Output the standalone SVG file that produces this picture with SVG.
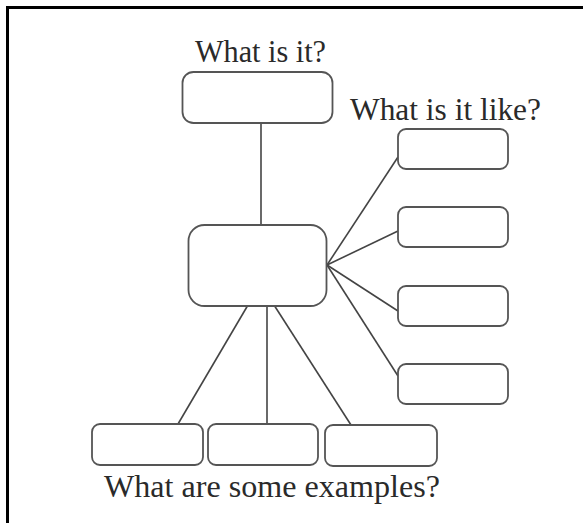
<svg xmlns="http://www.w3.org/2000/svg" width="583" height="523" viewBox="0 0 583 523">
<style>
.box{fill:#fff;stroke:#555;stroke-width:1.8}
.ln{stroke:#444;stroke-width:1.6;fill:none}
.lbl{font-family:"Liberation Serif","Times New Roman",serif;font-size:31px;fill:#2a2a2a}
</style>
<rect width="583" height="523" fill="#fff"/>
<path d="M7.5,523 V7.5 H583" fill="none" stroke="#000" stroke-width="3"/>
<g id="connectors">
<line class="ln" x1="261" y1="123" x2="261" y2="225"/>
<line class="ln" x1="327" y1="265" x2="398" y2="157"/>
<line class="ln" x1="327" y1="265" x2="398" y2="231"/>
<line class="ln" x1="327" y1="265" x2="398" y2="311"/>
<line class="ln" x1="327" y1="265" x2="398" y2="376"/>
<line class="ln" x1="248" y1="305" x2="178" y2="424"/>
<line class="ln" x1="267" y1="305" x2="267" y2="424"/>
<line class="ln" x1="274" y1="305" x2="351" y2="425"/>
</g>
<g id="label-what"><text class="lbl" x="195" y="62" textLength="131" lengthAdjust="spacingAndGlyphs">What is it?</text></g>
<g id="label-like"><text class="lbl" x="350" y="120" textLength="191" lengthAdjust="spacingAndGlyphs">What is it like?</text></g>
<g id="label-examples"><text class="lbl" x="104" y="497" textLength="336" lengthAdjust="spacingAndGlyphs">What are some examples?</text></g>
<g id="top"><rect class="box" x="182.5" y="72" width="150" height="51" rx="11"/></g>
<g id="center"><rect class="box" x="188.5" y="225" width="138" height="81" rx="16"/></g>
<g id="r1"><rect class="box" x="398" y="129" width="110" height="40" rx="8"/></g>
<g id="r2"><rect class="box" x="398" y="207" width="110" height="40" rx="8"/></g>
<g id="r3"><rect class="box" x="398" y="286" width="110" height="40" rx="8"/></g>
<g id="r4"><rect class="box" x="398" y="364" width="110" height="40" rx="8"/></g>
<g id="b1"><rect class="box" x="92" y="424" width="111" height="41" rx="8"/></g>
<g id="b2"><rect class="box" x="208" y="424" width="110" height="41" rx="8"/></g>
<g id="b3"><rect class="box" x="325" y="425" width="112" height="41" rx="8"/></g>
</svg>
